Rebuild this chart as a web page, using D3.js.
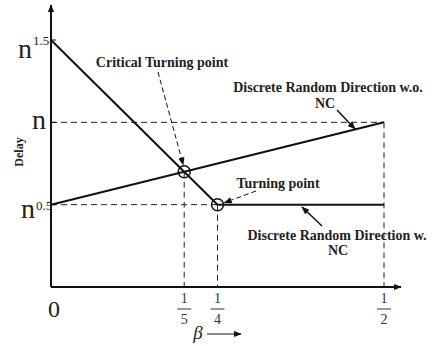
<!DOCTYPE html>
<html>
<head>
<meta charset="utf-8">
<script src="https://cdn.jsdelivr.net/npm/d3@7"></script>
<style>
body { margin: 0; background: #fff; }
</style>
</head>
<body>
<svg id="chart" width="434" height="346"></svg>
<script>
// exponent of n on the y axis, beta on the x axis
let yExps = [0.5, 1, 1.5];
let yLabels = ["0.5", "", "1.5"];
let xFracs = [[1, 5], [1, 4], [1, 2]];
let withNC = [[0, 1.5], [0.25, 0.5], [0.5, 0.5]];
let withoutNC = [[0, 0.5], [0.5, 1]];
let critical = [0.2, 0.7];
let turning = [0.25, 0.5];

const serif = "'Liberation Serif', 'Times New Roman', Times, 'DejaVu Serif', serif";

let svg = d3.select("#chart");
let x = d3.scaleLinear().domain([0, 0.5]).range([51, 384]);
let y = d3.scaleLinear().domain([0, 1.5]).range([287, 40]);

let defs = svg.append("defs");
defs.append("marker").attr("id", "arr")
	.attr("viewBox", "0 0 10 10").attr("refX", 9).attr("refY", 5)
	.attr("markerWidth", 8).attr("markerHeight", 8).attr("orient", "auto")
	.attr("markerUnits", "userSpaceOnUse")
	.append("path").attr("d", "M0,1 L10,5 L0,9 Z").attr("fill", "#111");

let dash = "6,4";
// dashed guides
function guide(x1, y1, x2, y2) {
	svg.append("line")
		.attr("x1", x1).attr("y1", y1).attr("x2", x2).attr("y2", y2)
		.attr("stroke", "#222").attr("stroke-width", 1).attr("stroke-dasharray", dash);
}
guide(x(0), y(1), x(0.5), y(1));
guide(x(0.5), y(1), x(0.5), y(0));
guide(x(0), y(0.5), x(turning[0]), y(0.5));
guide(x(critical[0]), y(critical[1]), x(critical[0]), y(0));
guide(x(turning[0]), y(turning[1]), x(turning[0]), y(0));

// axes
svg.append("line").attr("x1", x(0)).attr("y1", y(0)).attr("x2", x(0)).attr("y2", 5)
	.attr("stroke", "#111").attr("stroke-width", 2).attr("marker-end", "url(#arr)");
svg.append("line").attr("x1", x(0)).attr("y1", y(0)).attr("x2", 401).attr("y2", y(0))
	.attr("stroke", "#111").attr("stroke-width", 2).attr("marker-end", "url(#arr)");

yExps.forEach((e) => {
	svg.append("line").attr("x1", x(0)).attr("x2", x(0) + 5)
		.attr("y1", y(e)).attr("y2", y(e)).attr("stroke", "#111").attr("stroke-width", 1);
});

// series
let line = d3.line().x(d => x(d[0])).y(d => y(d[1]));
[withNC, withoutNC].forEach((s) => {
	svg.append("path").attr("d", line(s))
		.attr("fill", "none").attr("stroke", "#111").attr("stroke-width", 2);
});

[critical, turning].forEach((p) => {
	svg.append("circle").attr("cx", x(p[0])).attr("cy", y(p[1])).attr("r", 6)
		.attr("fill", "none").attr("stroke", "#111").attr("stroke-width", 1.5);
});

// y tick labels: start x, baseline offset of n, of the superscript
let yPos = [[21, 13, -8], [32, 7, 0], [18, 18, -13]];
yExps.forEach((e, i) => {
	let p = yPos[i];
	svg.append("text").attr("font-family", serif).attr("fill", "#222")
		.attr("x", p[0]).attr("y", y(e) + p[1]).attr("font-size", 28).text("n");
	if (yLabels[i]) {
		svg.append("text").attr("font-family", serif).attr("fill", "#222")
			.attr("x", p[0] + 15).attr("y", y(e) + p[1] + p[2]).attr("font-size", 13).text(yLabels[i]);
	}
});

// x tick labels
svg.append("text").attr("font-family", serif).attr("fill", "#222").attr("x", 54).attr("y", 317)
	.attr("text-anchor", "middle").attr("font-size", 24).text("0");
xFracs.forEach((f) => {
	let cx = x(f[0] / f[1]);
	svg.append("text").attr("font-family", serif).attr("fill", "#333").attr("x", cx).attr("y", 303)
		.attr("text-anchor", "middle").attr("font-size", 14).text(f[0]);
	svg.append("line").attr("x1", cx - 7).attr("x2", cx + 7).attr("y1", 309).attr("y2", 309)
		.attr("stroke", "#333").attr("stroke-width", 1);
	svg.append("text").attr("font-family", serif).attr("fill", "#333").attr("x", cx).attr("y", 324)
		.attr("text-anchor", "middle").attr("font-size", 14).text(f[1]);
});
svg.append("text").attr("font-family", serif).attr("fill", "#222").attr("x", 198).attr("y", 339)
	.attr("text-anchor", "middle").attr("font-size", 19).attr("font-style", "italic").text("β");
svg.append("line").attr("x1", 207).attr("x2", 241).attr("y1", 334).attr("y2", 334)
	.attr("stroke", "#111").attr("stroke-width", 1).attr("marker-end", "url(#arr)");

svg.append("text").attr("font-family", serif).attr("font-weight", "bold").attr("font-size", 12)
	.attr("fill", "#222")
	.attr("transform", "translate(23,152) rotate(-90)").attr("text-anchor", "middle").text("Delay");

// annotations
function label(tx, ty, str) {
	svg.append("text").attr("font-family", serif).attr("font-weight", "bold").attr("font-size", 14)
		.attr("fill", "#222").attr("x", tx).attr("y", ty)
		.attr("text-anchor", "middle").text(str);
}
label(162, 67, "Critical Turning point");
label(278, 188, "Turning point");
label(328, 92, "Discrete Random Direction w.o.");
label(325, 108, "NC");
label(337, 240, "Discrete Random Direction w.");
label(338, 255, "NC");

function pointer(x1, y1, x2, y2, dashed) {
	svg.append("line").attr("x1", x1).attr("y1", y1).attr("x2", x2).attr("y2", y2)
		.attr("stroke", "#111").attr("stroke-width", dashed ? 1 : 1.5)
		.attr("stroke-dasharray", dashed ? "5,3" : null)
		.attr("marker-end", "url(#arr)");
}
pointer(158, 72, x(critical[0]) - 1, y(critical[1]) - 7, true);
pointer(256, 191, x(turning[0]) + 7, y(turning[1]) - 2, true);
pointer(337, 110, 355, 129, false);
pointer(322, 226, 302, 207, false);
</script>
</body>
</html>
